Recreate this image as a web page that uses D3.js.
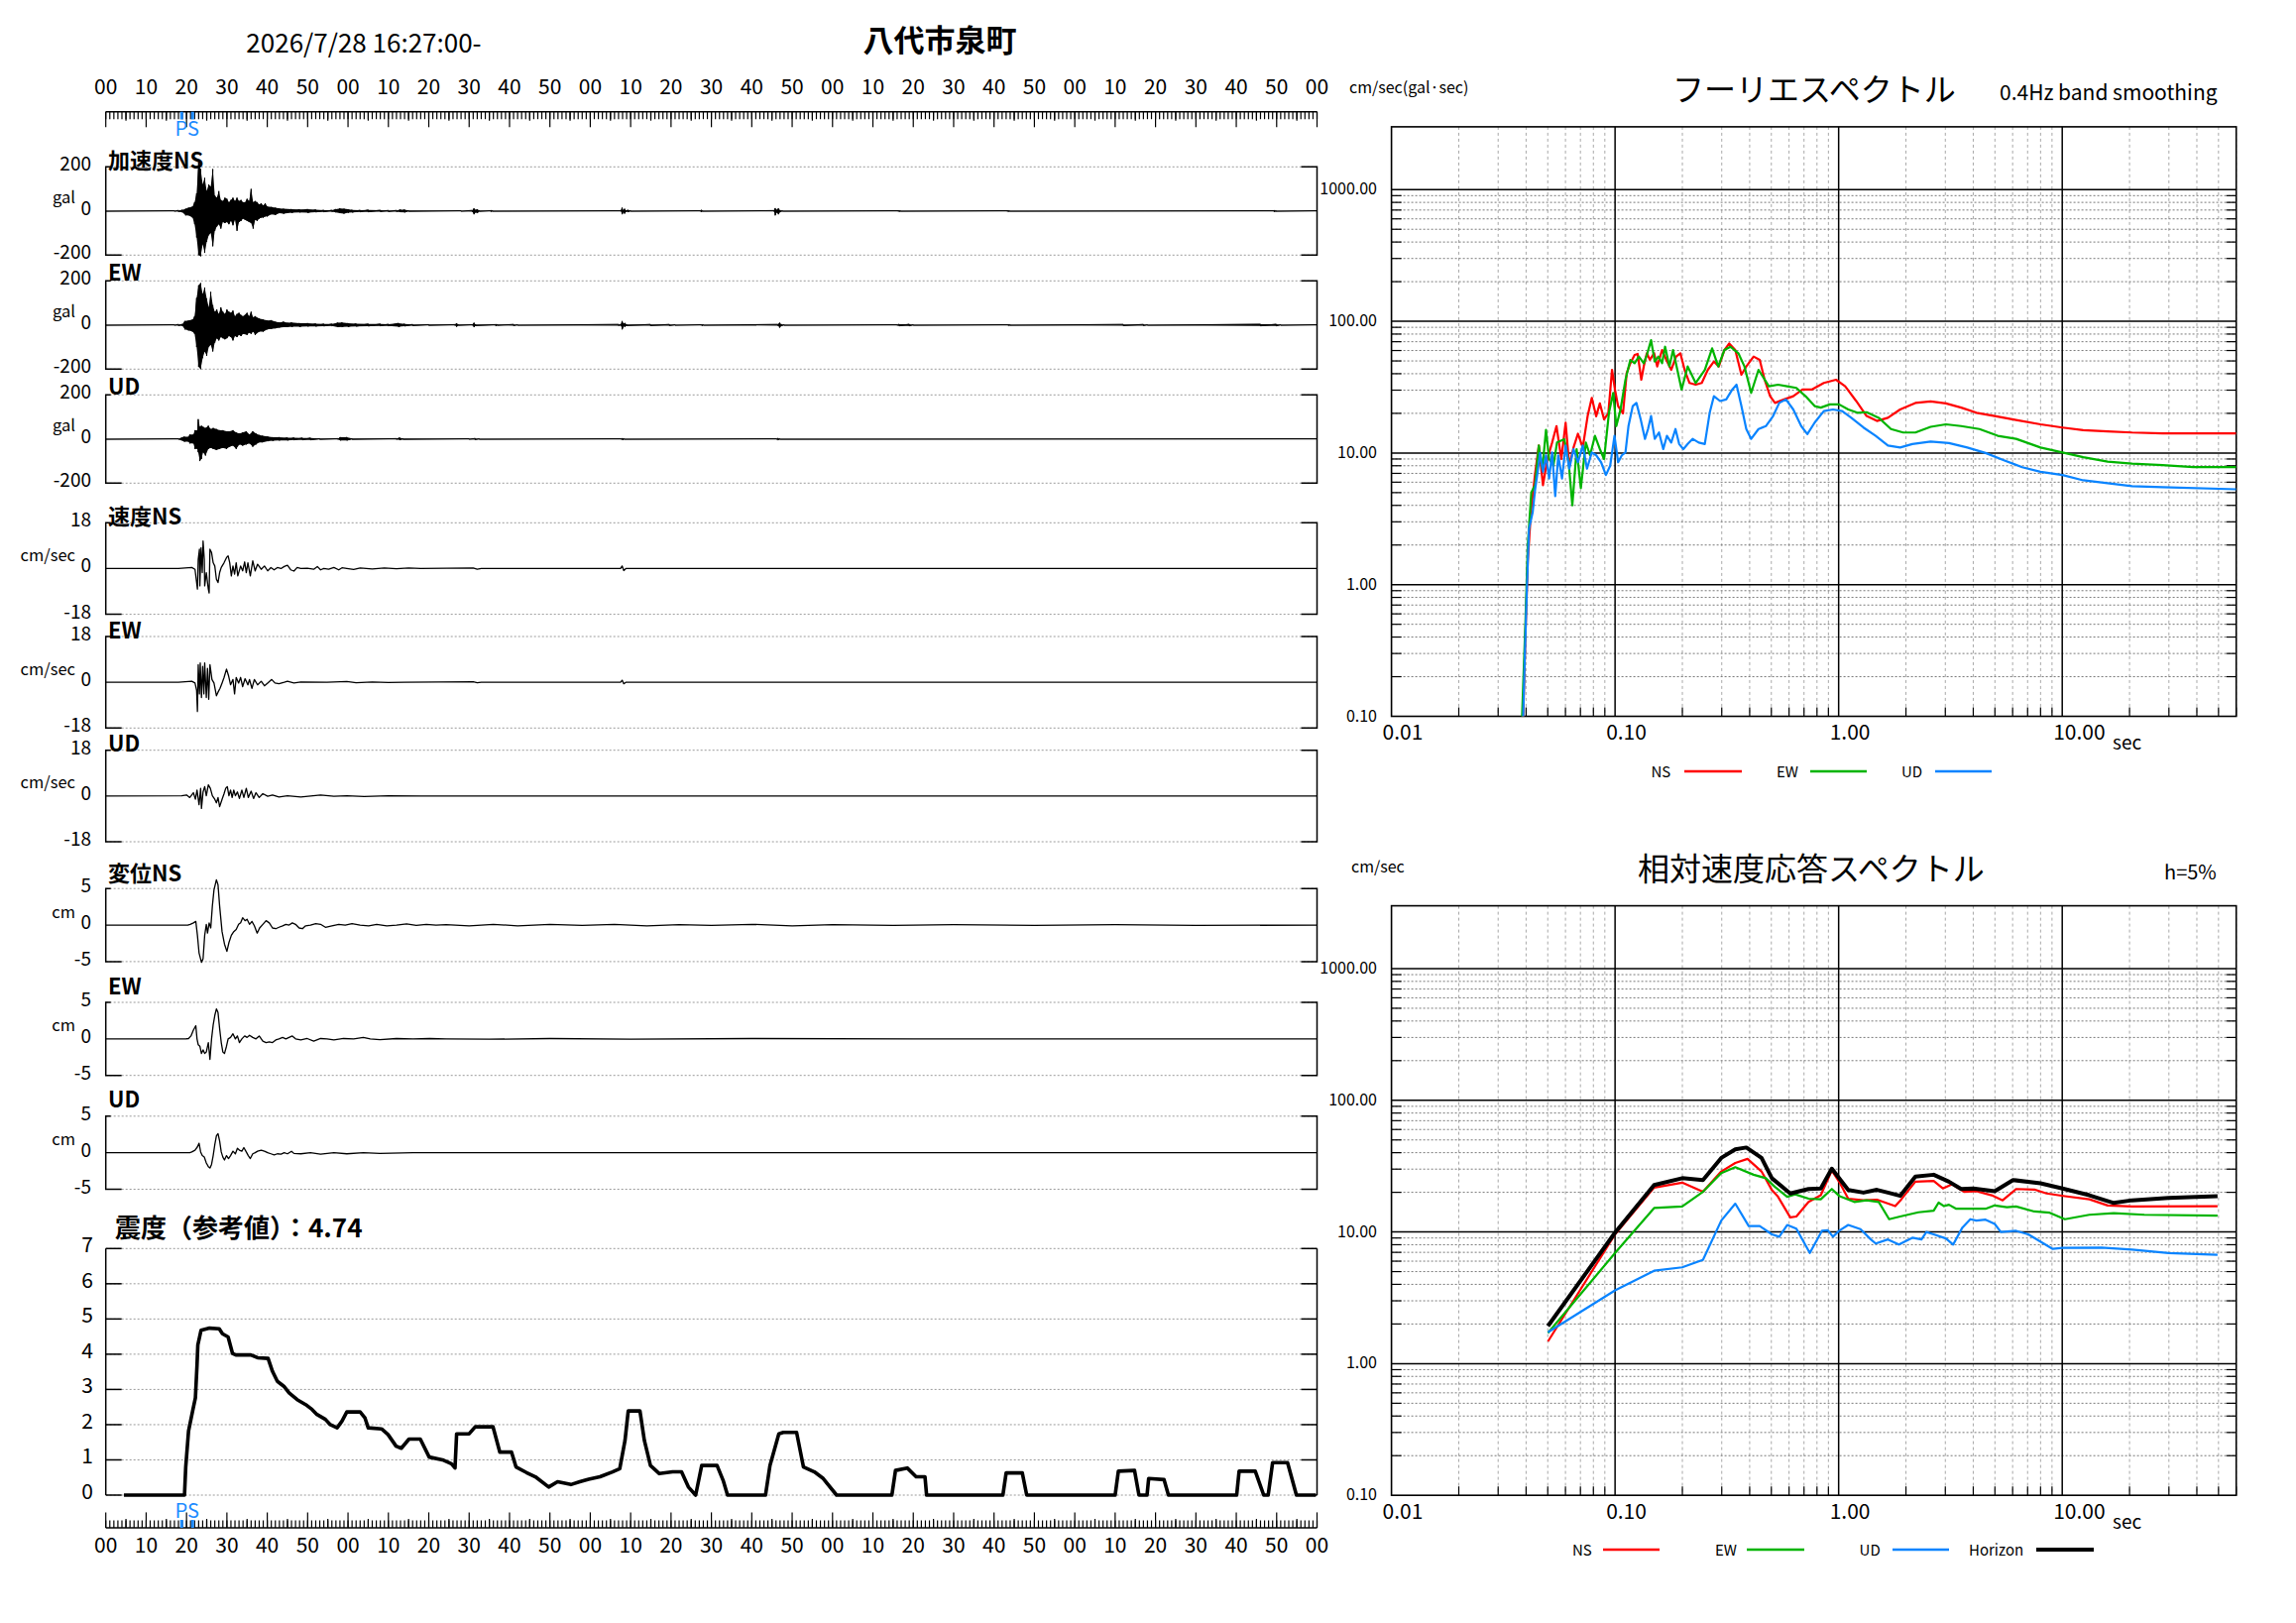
<!DOCTYPE html>
<html>
<head>
<meta charset="utf-8">
<script src="https://cdn.jsdelivr.net/npm/d3@7"></script>
<style>
html, body { margin: 0; padding: 0; background: #fff; }
svg { display: block; font-family: "Noto Sans CJK JP", "Noto Sans", sans-serif; }
</style>
</head>
<body>
<svg id="chart" width="2316" height="1637"></svg>
<script>
// ---------- time-history data (seconds after 16:27:00) ----------
var timeTicks = d3.range(0, 301, 10);
var pWave = 18.8, sWave = 21.5;

// acceleration envelopes: [t, upper gal, lower gal]
var accNS = [[0,1.5,-1.5],[17,1.5,-1.5],[18,3,-3],[19,5,-6],[19.8,10,-20],[20.5,15,-20],[21.5,20,-30],[22,40,-60],[22.5,80,-120],[23,220,-200],[23.5,190,-205],[24,120,-150],[24.5,150,-190],[25,90,-140],[25.5,120,-110],[26,110,-100],[26.5,190,-160],[27,70,-90],[27.5,60,-70],[28,90,-60],[28.5,50,-80],[29,45,-50],[29.5,60,-55],[30,55,-50],[30.5,40,-60],[31,50,-45],[31.5,60,-65],[32,45,-40],[32.5,60,-90],[33,45,-50],[33.5,50,-45],[34,40,-35],[34.5,40,-40],[35,55,-45],[35.5,45,-50],[36,100,-55],[36.5,40,-80],[37,45,-40],[37.5,40,-45],[38,30,-35],[38.5,35,-30],[39,25,-30],[39.5,35,-25],[40,20,-25],[41,18,-15],[42,15,-18],[43,12,-10],[44,10,-12],[46,8,-8],[48,7,-6],[50,8,-8],[52,6,-5],[54,4,-4],[56,4,-3],[57,8,-6],[58,12,-10],[59,10,-12],[60,8,-8],[61,5,-6],[63,4,-4],[65,5,-4],[68,4,-3],[70,3,-3],[72,3,-3],[73,6,-5],[74,6,-6],[75,2,-2],[88,1.5,-1.5],[90.8,3,-3],[91.2,12,-15],[91.6,5,-6],[92,8,-10],[92.5,2,-2],[95.3,1.5,-1.5],[95.5,4,-3],[95.8,1.5,-1.5],[127.6,1.5,-1.5],[127.9,15,-15],[128.2,4,-4],[128.5,10,-12],[128.8,3,-3],[129.3,5,-4],[130,1.5,-1.5],[147.3,1.5,-1.5],[147.5,5,-5],[147.8,1.5,-1.5],[165.5,2,-2],[165.8,13,-20],[166.2,5,-6],[166.6,12,-15],[167,4,-4],[167.6,1.5,-1.5],[196.3,1.5,-1.5],[196.5,3,-3],[196.8,1.5,-1.5],[223.3,1.5,-1.5],[223.5,3,-3],[223.8,1.5,-1.5],[289.3,1.5,-1.5],[289.5,4,-4],[289.8,1.5,-1.5],[300,1.5,-1.5]];
var accEW = [[0,1.5,-1.5],[17,1.5,-1.5],[18,3,-3],[19,4,-4],[19.6,18,-20],[20.5,20,-25],[21.5,25,-30],[22,40,-40],[22.5,123,-100],[23,180,-190],[23.5,190,-200],[24,140,-150],[24.5,170,-120],[25,120,-140],[25.5,80,-100],[26,150,-90],[26.5,90,-120],[27,60,-80],[27.5,70,-60],[28,50,-70],[28.5,80,-55],[29,60,-60],[29.5,50,-65],[30,70,-60],[30.5,60,-50],[31,55,-55],[31.5,65,-70],[32,40,-50],[32.5,50,-55],[33,55,-45],[33.5,45,-50],[34,40,-40],[35,55,-45],[35.5,40,-35],[36,60,-40],[36.5,35,-30],[37,40,-45],[38,30,-30],[39,25,-30],[40,20,-20],[41,22,-18],[42,15,-15],[43,12,-12],[44,15,-10],[45,10,-10],[46,12,-8],[48,8,-8],[50,8,-6],[52,6,-6],[54,5,-5],[56,5,-4],[57.5,10,-10],[58.5,12,-9],[60,8,-8],[62,6,-6],[65,5,-5],[68,5,-4],[70,4,-4],[72.5,8,-8],[74,5,-5],[76,3,-3],[80,2,-2],[86.5,2,-2],[86.9,8,-8],[87.3,2,-2],[90.9,2,-2],[91.2,10,-10],[91.6,3,-3],[96.5,2,-2],[96.7,4,-4],[97,2,-2],[101,3,-3],[102,1.5,-1.5],[127,3,-3],[127.6,3,-3],[127.9,18,-20],[128.3,6,-6],[128.6,9,-8],[129,3,-3],[134.9,3,-3],[139.6,3,-3],[141,1.5,-1.5],[147.5,1.5,-1.5],[147.7,3,-3],[148,1.5,-1.5],[166.5,3,-3],[166.9,10,-12],[167.3,4,-4],[168,1.5,-1.5],[196,1.5,-1.5],[196.5,4,-4],[199,4,-4],[200,1.5,-1.5],[223.5,1.5,-1.5],[223.7,3,-3],[224,1.5,-1.5],[252,3,-3],[257,3,-3],[258,1.5,-1.5],[286,4,-4],[289.9,4,-4],[291,1.5,-1.5],[300,1.5,-1.5]];
var accUD = [[0,1.5,-1.5],[18,1.5,-1.5],[19.5,10,-12],[20.5,10,-12],[20.8,20,-20],[21.7,20,-20],[22.1,40,-45],[22.7,40,-45],[22.9,90,-60],[23.3,55,-100],[23.7,60,-90],[24.1,55,-60],[24.7,50,-75],[25.4,60,-45],[26.0,45,-40],[26.6,50,-45],[27.4,45,-50],[28.2,40,-45],[29.0,40,-40],[29.9,35,-45],[30.7,35,-35],[31.5,40,-30],[32.3,30,-45],[33.1,25,-25],[33.9,30,-30],[34.8,35,-25],[35.6,20,-20],[36.4,35,-35],[37.2,25,-25],[38.0,18,-15],[38.8,15,-15],[40.1,12,-10],[41.3,8,-8],[42.9,8,-6],[45.0,6,-6],[46.6,6,-4],[48.7,5,-4],[50.7,5,-4],[53,2,-2],[57.5,2,-2],[58.1,8,-6],[59.7,8,-6],[61,2,-2],[72,2,-2],[72.8,6,-4],[73.6,2,-2],[90,1.5,-1.5],[91.5,3,-3],[92.5,1.5,-1.5],[127.7,1.5,-1.5],[128,4,-4],[128.4,1.5,-1.5],[166.2,1.5,-1.5],[166.5,4,-4],[166.9,1.5,-1.5],[300,1.5,-1.5]];

// velocity, cm/sec: [t, v]
var velNS = [[0,0],[18,0],[21.3,0.4],[22.1,-0.3],[22.7,-8.1],[22.9,3.6],[23.2,7.6],[23.3,-6.8],[23.6,8.2],[23.9,-1.6],[24.1,10.8],[24.4,3.6],[24.5,-6.8],[24.9,-1.6],[25.4,-8.1],[25.6,-9.6],[25.8,7.6],[26.2,6.3],[26.6,2.3],[27.0,1.0],[27.4,-4.2],[27.8,-5.5],[28.2,-1.6],[28.6,0.4],[29.3,2.3],[29.9,4.3],[30.3,5.0],[30.7,2.3],[31.1,-2.9],[31.5,1.0],[31.9,-2.2],[32.3,2.3],[32.7,-2.9],[33.4,1.0],[33.9,-0.9],[34.4,2.6],[34.8,-1.6],[35.2,2.3],[35.8,-2.9],[36.4,3.0],[37.0,-0.9],[37.6,1.7],[38.5,-0.3],[39.3,1.0],[40.1,-0.9],[40.9,0.4],[41.7,-0.5],[42.5,0.4],[43.4,0],[44.2,0.8],[45.0,1.3],[45.8,-0.5],[46.6,-1.0],[47.4,0.4],[48.3,0],[49.9,0.1],[51.5,-0.3],[52.4,0.8],[53.2,-0.5],[54.0,0],[55.2,-0.3],[56.5,0.4],[57.7,-0.5],[58.5,0.3],[59.7,0],[61.4,-0.4],[63,0.2],[66,-0.2],[69,0.2],[72,-0.1],[75,0.2],[78,0],[91,0.2],[92,-0.3],[93,0],[127.5,0],[127.9,1.0],[128.3,-0.8],[128.8,0],[300,0]];
var velEW = [[0,0],[18,0],[21.3,0.4],[22.1,-0.3],[22.5,-3.2],[22.7,-11.5],[22.9,6.9],[23.2,-4.6],[23.4,7.6],[23.7,-6.0],[24.0,6.2],[24.3,-4.6],[24.5,7.6],[24.9,-6.0],[25.2,5.5],[25.5,-6.7],[25.8,6.9],[26.3,1.1],[26.8,-0.3],[27.4,-5.3],[27.8,-3.9],[28.3,-2.4],[28.8,-0.3],[29.3,1.9],[29.9,5.2],[30.4,2.6],[30.9,-1.0],[31.5,1.1],[31.9,-4.6],[32.3,1.9],[32.9,-0.3],[33.4,1.9],[33.9,-1.7],[34.5,1.4],[35.2,-1.0],[35.6,1.1],[36.2,-2.4],[36.8,1.1],[37.6,-1.0],[38.5,0.4],[39.3,-1.4],[40.1,-0.3],[41.1,1.1],[41.9,-0.3],[42.9,-0.6],[44.2,0],[45.0,0.4],[46.6,-0.3],[48.3,0.1],[54.8,0],[59.7,0.3],[62,-0.2],[66,0.1],[70,-0.1],[74,0],[91,0.2],[92,-0.2],[93,0],[127.5,0],[127.9,0.8],[128.3,-0.6],[128.8,0],[300,0]];
var velUD = [[0,0],[18.8,0.1],[20.0,0.4],[20.8,-0.6],[21.7,1.3],[22.2,-1.3],[22.6,2.3],[23.1,-3.4],[23.5,3.0],[23.7,-4.9],[24.1,1.6],[24.5,3.7],[24.9,0.1],[25.4,4.4],[25.9,3.0],[26.4,0.1],[27.0,-1.3],[27.4,-2.7],[27.8,-0.6],[28.2,-4.2],[28.8,-1.3],[29.3,0.9],[29.7,3.0],[30.1,3.7],[30.5,0.1],[30.9,2.3],[31.3,-0.6],[31.7,2.3],[32.1,0.1],[32.6,1.6],[33.1,-1.0],[33.7,2.3],[34.2,-0.6],[34.8,3.0],[35.3,-0.6],[36.0,1.9],[36.6,-1.0],[37.2,1.3],[38.0,-0.6],[38.9,0.9],[40.1,-0.1],[41.3,0.4],[42.9,-0.4],[45.0,0.1],[48.3,-0.4],[53.2,0.4],[56.5,-0.1],[59.7,0.1],[64,-0.2],[70,0.1],[78,0],[300,0]];

// displacement, cm: [t, d]
var dispNS = [[0,0],[20.3,0],[20.9,0.1],[21.7,0.3],[22.3,0.5],[22.7,-1.4],[23.1,-3.8],[23.7,-5.1],[24.1,-4.6],[24.5,-1.4],[24.9,0.1],[25.2,-1.1],[25.6,0.3],[26.0,-0.4],[26.4,2.6],[26.8,4.8],[27.4,6.2],[27.8,5.5],[28.2,2.6],[28.8,-0.9],[29.4,-2.6],[30.0,-3.6],[30.5,-2.4],[31.1,-1.4],[31.7,-0.9],[32.3,-0.6],[32.9,0.1],[33.4,0.3],[33.9,1.0],[34.5,0.6],[35.0,0.8],[35.6,0.1],[36.2,0.5],[36.8,-0.1],[37.5,-1.1],[38.1,-0.4],[38.9,0.1],[39.7,0.6],[40.5,0.3],[41.3,-0.4],[42.1,-0.5],[42.9,-0.3],[43.8,-0.1],[44.6,0.1],[45.4,0],[46.2,0.3],[47.0,0.1],[47.9,-0.4],[48.7,-0.5],[49.5,-0.1],[50.7,0],[52.0,0.2],[53.2,0.1],[54.4,-0.3],[56.0,-0.1],[57.7,0.1],[59.3,0],[61.0,0.2],[63.0,0],[65.1,-0.1],[67.1,0.1],[69.6,-0.1],[72.0,0],[74.5,0.15],[76.9,-0.05],[79.4,0.1],[81.8,0],[84.3,0.05],[90,-0.1],[96,0.1],[102,-0.1],[110,0.1],[118,-0.05],[126,0.1],[134,-0.1],[142,0.05],[150,-0.05],[160,0.1],[170,-0.1],[180,0.05],[195,-0.05],[210,0.05],[230,-0.05],[250,0.05],[270,-0.05],[300,0]];
var dispEW = [[0,0],[19.8,0],[20.5,0.05],[21.1,0.4],[21.7,1.2],[22.3,1.8],[22.6,0],[22.9,-0.8],[23.3,-1.0],[23.7,-2.0],[24.1,-1.5],[24.5,-2.0],[24.9,-1.8],[25.4,-0.5],[25.8,-2.8],[26.2,0],[26.6,1.9],[27.0,3.2],[27.4,4.1],[27.8,3.6],[28.2,1.4],[28.6,-0.5],[29.0,-1.8],[29.4,-2.0],[29.9,-1.0],[30.3,0],[30.9,0.2],[31.5,0.7],[32.1,0],[32.6,0.4],[33.1,-0.5],[33.7,0],[34.4,0.4],[35.0,0.2],[35.6,0.5],[36.4,0.2],[37.2,0],[38.0,0.4],[38.9,-0.3],[39.7,-0.5],[40.5,-0.4],[41.3,-0.5],[42.1,-0.15],[42.9,0],[43.8,0.2],[44.6,0],[45.4,0.2],[46.2,0.4],[47.0,0],[48.3,-0.15],[49.9,0.05],[51.5,-0.3],[53.2,0.05],[54.8,0],[56.5,-0.15],[58.9,0.05],[61.4,0],[63.8,0.2],[65.5,0],[67.9,-0.1],[72.0,0.05],[76.1,0],[80.2,0.05],[84.3,0],[95,-0.05],[110,0.05],[130,-0.05],[160,0.05],[200,0],[300,0]];
var dispUD = [[0,0],[20.8,0],[21.3,0.1],[22.1,0.35],[22.7,0.8],[23.1,1.3],[23.5,0.1],[23.9,-0.4],[24.4,-0.6],[24.9,-1.4],[25.4,-1.9],[25.8,-2.1],[26.2,-1.6],[26.6,-0.4],[27.0,1.1],[27.4,2.3],[27.8,2.6],[28.2,1.6],[28.6,0.1],[29.0,-0.6],[29.4,-1.0],[29.9,-0.4],[30.4,-0.8],[30.9,-0.4],[31.5,0.2],[32.1,-0.15],[32.6,0.6],[33.1,0.35],[33.7,0.2],[34.2,0.7],[34.8,0.1],[35.3,-0.4],[35.8,-0.8],[36.4,-0.15],[37.0,0],[37.6,0.2],[38.5,0.35],[39.3,0.2],[40.1,0],[40.9,-0.15],[41.7,-0.3],[42.5,-0.15],[43.4,-0.2],[44.2,0],[45.0,-0.15],[46.0,0.2],[46.6,-0.1],[48.3,-0.15],[50.7,0],[53.2,-0.2],[56.5,0],[59.7,-0.15],[63.8,0],[67.9,-0.1],[76.1,0],[300,0]];

// seismic intensity (reference value) time history: [t, I]
var intensityTicks = [0, 1, 2, 3, 4, 5, 6, 7];
var intensity = [[4.5,0],[19.5,0],[19.8,0.79],[20.5,1.82],[21.5,2.38],[22.2,2.76],[22.6,3.69],[22.8,4.26],[23.6,4.68],[25.7,4.74],[28.1,4.72],[28.9,4.58],[30.3,4.49],[31.4,4.02],[32.2,3.98],[35.9,3.98],[37.6,3.9],[40.2,3.88],[41.3,3.51],[42.5,3.23],[44.1,3.09],[45.4,2.9],[47.4,2.71],[49.5,2.57],[51.1,2.43],[52.3,2.29],[54.4,2.15],[55.6,2.0],[57.3,1.91],[58.5,2.1],[59.7,2.36],[63.0,2.36],[64.2,2.19],[65.0,1.91],[68.3,1.88],[69.9,1.72],[71.9,1.39],[73.2,1.33],[75.1,1.59],[77.9,1.59],[80.1,1.08],[83.4,1.0],[85.6,0.89],[86.5,0.77],[86.9,1.74],[90.0,1.74],[91.5,1.94],[95.9,1.94],[97.6,1.22],[100.5,1.22],[101.6,0.8],[104.2,0.64],[106.4,0.52],[109.7,0.23],[111.9,0.38],[115.2,0.3],[117.4,0.38],[119.6,0.45],[122.4,0.52],[125.5,0.66],[127.3,0.75],[128.6,1.55],[129.4,2.39],[132.3,2.39],[133.4,1.55],[134.9,0.84],[137.1,0.61],[140.4,0.66],[142.6,0.66],[144.3,0.23],[146.1,0],[147.6,0.84],[151.4,0.84],[152.9,0.42],[154.0,0],[163.4,0],[164.5,0.84],[166.7,1.74],[167.8,1.78],[171.1,1.78],[172.8,0.8],[175.5,0.66],[177.7,0.47],[181.0,0],[194.7,0],[195.6,0.7],[198.5,0.77],[200.7,0.52],[202.9,0.52],[203.3,0],[222.2,0],[223.0,0.63],[227.0,0.63],[228.1,0],[250.0,0],[250.8,0.68],[254.8,0.7],[255.9,0],[257.9,0],[258.3,0.47],[262.1,0.44],[263.2,0],[280.1,0],[280.7,0.68],[284.7,0.68],[286.8,0],[287.9,0],[289.0,0.92],[292.7,0.92],[294.9,0],[299.7,0]];

// ---------- spectra: [period sec, value] ----------
var fourierNS = [[0.0387,0.08],[0.0397,0.4],[0.0407,1.5],[0.0420,3.5],[0.0439,7],[0.0456,11.4],[0.0476,5.7],[0.0498,9],[0.0523,12],[0.0547,16],[0.0575,9],[0.0601,17],[0.0624,8],[0.0652,11],[0.0682,14],[0.0717,11],[0.0754,19.1],[0.0787,26.2],[0.0823,19],[0.0855,23.8],[0.0893,18],[0.0933,20],[0.0969,42.8],[0.1,30],[0.1032,22.7],[0.1085,20],[0.1127,40.4],[0.1170,48],[0.1223,55.5],[0.1262,56.5],[0.1310,36],[0.1344,45.4],[0.1387,57.2],[0.1431,51],[0.1495,57.2],[0.1543,45.4],[0.1623,60.5],[0.1695,51],[0.1783,42.8],[0.1875,54],[0.1959,57.2],[0.2047,42.8],[0.2153,34],[0.2293,33],[0.2442,34],[0.2600,42.8],[0.2768,49.5],[0.2911,45.4],[0.3082,60.5],[0.3240,67.9],[0.3449,60.5],[0.3673,39.3],[0.3863,45.4],[0.4166,54],[0.4436,50.9],[0.4666,36],[0.4937,27],[0.5191,24],[0.5703,25.5],[0.6267,27],[0.6887,30.3],[0.7570,30.3],[0.8585,34],[0.9734,36],[1.0696,32.1],[1.1979,24.8],[1.3330,19.1],[1.4832,17.5],[1.6612,18.5],[1.8835,21.4],[2.2035,24],[2.5788,24.6],[3.0177,23.8],[3.5318,22.1],[4.1324,20.2],[4.9893,19.1],[6.2173,17.8],[7.9950,16.5],[10.025,15.6],[12.416,14.9],[15.966,14.6],[20.532,14.3],[28.108,14.1],[60,14.1]];
var fourierEW = [[0.0382,0.08],[0.0397,0.5],[0.0407,2],[0.0422,5],[0.0439,5.7],[0.0456,11.4],[0.0473,7.6],[0.0491,15],[0.0507,9],[0.0530,8],[0.0550,12],[0.0593,12.7],[0.0620,8.5],[0.0644,4.0],[0.0673,10.7],[0.0703,5.4],[0.0740,12],[0.0773,9.6],[0.0813,13.5],[0.0855,10.7],[0.0893,9],[0.0939,20.2],[0.0981,28.6],[0.1013,16],[0.1058,21.4],[0.1113,36],[0.1170,50.9],[0.1223,48.1],[0.1278,54],[0.1344,48.1],[0.1387,55.5],[0.1449,71.9],[0.1505,49.5],[0.1562,54],[0.1623,48.1],[0.1674,64.1],[0.1750,45.4],[0.1817,60.5],[0.1899,42.8],[0.1984,30.3],[0.2113,45.4],[0.2293,34],[0.2520,42.8],[0.2717,62.3],[0.2893,45.4],[0.3082,60.5],[0.3281,64.1],[0.3560,57.2],[0.3791,45.4],[0.4062,28.6],[0.4381,42.8],[0.4875,32.1],[0.5356,33],[0.5886,32.1],[0.6468,31.2],[0.7108,27],[0.7811,22.7],[0.8318,22.1],[0.9141,23.4],[1.0044,23.4],[1.1038,21.4],[1.2130,20.2],[1.3330,20.4],[1.5115,18.5],[1.7139,15.2],[1.9436,14.3],[2.2035,14.3],[2.5788,15.8],[3.0177,16.5],[3.5318,16],[4.2640,15.2],[5.1484,13.5],[6.2173,12.8],[7.9950,11.0],[10.025,10.1],[12.416,9.3],[15.966,8.6],[20.532,8.3],[28.108,8.1],[38.482,7.8],[60,7.8]];
var fourierUD = [[0.0387,0.08],[0.0394,0.25],[0.0402,0.79],[0.0412,2.65],[0.0428,3.54],[0.0439,5.3],[0.0450,7.07],[0.0462,10],[0.0476,7.2],[0.0491,9.6],[0.0507,6.4],[0.0523,10.1],[0.0540,4.7],[0.0557,9.6],[0.0579,6.4],[0.0601,11.4],[0.0624,7.6],[0.0652,10.7],[0.0682,8.5],[0.0717,11.4],[0.0749,7.6],[0.0787,10.1],[0.0823,9.6],[0.0866,8.5],[0.0910,6.8],[0.0951,8.0],[0.0994,13.5],[0.1032,8.5],[0.1072,9.6],[0.1113,10.1],[0.1148,16],[0.1200,22.7],[0.1246,24],[0.1302,18],[0.1361,12.8],[0.1404,15.2],[0.1449,19.1],[0.1505,12.8],[0.1572,14.3],[0.1643,10.7],[0.1706,13.5],[0.1783,12],[0.1863,15.2],[0.1935,11.7],[0.2021,10.7],[0.2113,11.7],[0.2222,12.8],[0.2366,12],[0.2520,11.7],[0.2650,20.2],[0.2768,27],[0.2948,24.8],[0.3141,25.5],[0.3343,30.3],[0.3493,33],[0.3673,22.7],[0.3863,15.2],[0.4062,12.8],[0.4381,15.2],[0.4725,16],[0.5093,19.1],[0.5424,24],[0.5812,25.5],[0.6267,21.4],[0.6801,16],[0.7244,13.9],[0.7811,17],[0.8585,20.8],[0.9432,21.4],[1.0366,20.8],[1.1389,18.5],[1.2916,15.6],[1.4646,13.5],[1.6612,11.4],[1.8835,11.0],[2.1359,11.7],[2.5788,12.2],[3.1137,11.9],[3.7609,11.0],[4.5406,10.0],[5.4825,8.8],[6.6210,7.8],[7.9950,7.2],[10.025,6.8],[12.416,6.2],[15.966,5.9],[20.532,5.6],[28.108,5.5],[60,5.3]];

var respNS = [[0.0501,1.475],[0.1,9.59],[0.1495,21.7],[0.1996,23.7],[0.2472,20.2],[0.2985,28.8],[0.3449,33.4],[0.3913,35.9],[0.452,28.8],[0.5028,20.8],[0.5356,18.5],[0.6075,12.9],[0.6468,13.1],[0.7337,16.9],[0.8318,19.0],[0.932,29.3],[1.0044,24.1],[1.1038,17.9],[1.2916,17.4],[1.4832,17.6],[1.791,15.7],[1.907,17.7],[2.2035,24.1],[2.661,24.4],[2.924,21.4],[3.214,23.0],[3.644,20.2],[4.13,20.4],[4.836,19.0],[5.415,17.4],[6.217,21.2],[7.508,21.0],[8.51,19.6],[10.28,18.7],[13.22,17.7],[15.97,15.9],[20.53,15.6],[49.5,15.7]];
var respEW = [[0.0501,1.71],[0.1,6.92],[0.1495,15.2],[0.1996,15.6],[0.2472,20.2],[0.2985,28.0],[0.3449,31.0],[0.4166,27.2],[0.4725,25.6],[0.5191,22.0],[0.5886,18.5],[0.6388,19.3],[0.7337,17.9],[0.8318,17.7],[0.932,21.2],[1.0044,18.8],[1.175,16.9],[1.333,17.4],[1.5115,16.9],[1.682,12.5],[1.8835,13.1],[2.274,14.1],[2.661,14.5],[2.799,16.7],[2.962,15.7],[3.1137,16.1],[3.357,15.0],[4.54,15.0],[4.9893,15.9],[5.657,15.4],[6.217,15.6],[7.508,14.3],[8.787,14.0],[10.28,12.5],[13.22,13.5],[17.0,13.9],[23.28,13.5],[49.5,13.3]];
var respUD = [[0.0501,1.73],[0.1,3.60],[0.1495,5.08],[0.1996,5.39],[0.2472,6.14],[0.2985,12.2],[0.3449,16.4],[0.396,11.1],[0.4436,11.1],[0.5028,9.59],[0.5424,9.2],[0.5886,11.3],[0.6468,10.6],[0.743,6.92],[0.842,10.2],[0.8938,10.3],[0.9432,9.2],[1.0044,10.2],[1.1038,11.3],[1.2518,10.5],[1.393,8.77],[1.4646,8.17],[1.6612,8.77],[1.860,8.02],[2.1359,9.04],[2.347,8.77],[2.468,10.0],[2.661,9.59],[3.0177,8.93],[3.253,8.02],[3.576,10.8],[3.881,12.5],[4.13,12.2],[4.54,12.4],[4.9893,11.5],[5.314,10.0],[6.217,10.2],[7.052,9.59],[9.066,7.43],[10.03,7.56],[14.99,7.6],[20.53,7.34],[29.9,6.92],[49.5,6.71]];
var respH = [[0.0501,1.93],[0.1,9.88],[0.1495,22.7],[0.1996,25.6],[0.2472,24.8],[0.2985,36.5],[0.3449,42.4],[0.3864,43.8],[0.452,36.5],[0.5028,25.6],[0.6075,19.6],[0.7337,21.2],[0.8318,21.4],[0.932,30.2],[1.1038,20.8],[1.2916,19.9],[1.4832,20.9],[1.6612,19.9],[1.8835,18.8],[2.2035,26.3],[2.661,27.2],[3.1137,24.1],[3.5318,21.2],[4.004,21.4],[4.9893,20.4],[6.025,24.8],[7.995,23.4],[10.03,21.4],[13.22,19.0],[17.0,16.6],[20.53,17.4],[29.9,18.1],[49.5,18.7]];

var specLabelsY = [0.1, 1, 10, 100, 1000];
var specLabelsX = [0.01, 0.1, 1, 10];

// ---------- drawing ----------
var FONT = '"Noto Sans CJK JP", "Noto Sans", sans-serif';
var BLUE_PS = '#1e8cff';
var svg = d3.select('#chart');
var X0 = 106.7, X1 = 1328.5;
var xTime = d3.scaleLinear().domain([0, 300]).range([X0, X1]);

function txt(x, y, s, size, anchor, color, weight) {
	return svg.append('text')
		.attr('x', x).attr('y', y)
		.attr('font-size', size)
		.attr('font-family', FONT)
		.attr('font-weight', weight || 'normal')
		.attr('text-anchor', anchor || 'start')
		.attr('fill', color || '#000')
		.text(s);
}

function secLabel(t) {
	var s = Math.round(t) % 60;
	return (s < 10 ? '0' : '') + s;
}

// titles
txt(367, 53, '2026/7/28 16:27:00-', 26, 'middle');
txt(948, 52, '八代市泉町', 31, 'middle', '#000', 'bold');

/**
 * time axis; ticks always point toward the charts (down for the top one, up for the bottom one)
 */
function timeAxis(yLine, top) {
	var g = svg.append('g').attr('transform', 'translate(0,' + yLine + ')');
	var mk = top ? d3.axisTop : d3.axisBottom;
	g.append('g').call(mk(xTime).tickValues(d3.range(0, 301, 1)).tickSize(-7.5).tickSizeOuter(0).tickFormat('').offset(0));
	g.append('g').call(mk(xTime).tickValues(d3.range(5, 300, 10)).tickSize(-9).tickSizeOuter(0).tickFormat('').offset(0))
		.select('.domain').remove();
	var lab = g.append('g').call(mk(xTime).tickValues(timeTicks).tickSize(-15.6).tickSizeOuter(0)
		.tickPadding(top ? 18.2 : 9.6).tickFormat(secLabel).offset(0));
	lab.select('.domain').remove();
	lab.attr('font-family', FONT).attr('font-size', 21);
	g.selectAll('line').attr('stroke-width', 1.2);
	g.selectAll('.domain').attr('stroke-width', 1.5);
	return g;
}

timeAxis(112.7, true);
timeAxis(1541, false);

// P / S markers
[pWave, sWave].forEach(function (t) {
	svg.append('line').attr('x1', xTime(t)).attr('x2', xTime(t)).attr('y1', 112.7).attr('y2', 120.5)
		.attr('stroke', BLUE_PS).attr('stroke-width', 3);
	svg.append('line').attr('x1', xTime(t)).attr('x2', xTime(t)).attr('y1', 1533).attr('y2', 1541)
		.attr('stroke', BLUE_PS).attr('stroke-width', 3);
});
txt(xTime((pWave + sWave) / 2), 137, 'PS', 20, 'middle', BLUE_PS);
txt(xTime((pWave + sWave) / 2), 1531, 'PS', 20, 'middle', BLUE_PS);

// waveform panels
var panelLayout = [
	{ label: '加速度NS', top: 168.3, h: 89, max: 200, unit: 'gal', nameDy: 2 },
	{ label: 'EW', top: 283.3, h: 89, max: 200, unit: 'gal', nameDy: 0 },
	{ label: 'UD', top: 398.3, h: 89, max: 200, unit: 'gal', nameDy: 0 },
	{ label: '速度NS', top: 527.3, h: 92.3, max: 18, unit: 'cm/sec', nameDy: 2 },
	{ label: 'EW', top: 642, h: 92.3, max: 18, unit: 'cm/sec', nameDy: 1.5 },
	{ label: 'UD', top: 756.7, h: 92.3, max: 18, unit: 'cm/sec', nameDy: 1.5 },
	{ label: '変位NS', top: 896.2, h: 73.7, max: 5, unit: 'cm', nameDy: -7 },
	{ label: 'EW', top: 1011, h: 73.7, max: 5, unit: 'cm', nameDy: -8.5 },
	{ label: 'UD', top: 1125.8, h: 73.7, max: 5, unit: 'cm', nameDy: -8.5 }
];
var panelData = [accNS, accEW, accUD, velNS, velEW, velUD, dispNS, dispEW, dispUD];

panelLayout.forEach(function (p, i) {
	var bottom = p.top + p.h;
	var y = d3.scaleLinear().domain([-p.max, p.max]).range([bottom, p.top]);
	var g = svg.append('g');

	[p.top, bottom].forEach(function (yy) {
		g.append('line').attr('x1', X0).attr('x2', X1).attr('y1', yy).attr('y2', yy)
			.attr('stroke', '#9a9a9a').attr('stroke-width', 1).attr('stroke-dasharray', '2,2');
	});
	g.append('path')
		.attr('d', 'M' + (X0 + 5) + ',' + p.top + 'H' + X0 + 'V' + bottom + 'H' + (X0 + 16))
		.attr('fill', 'none').attr('stroke', '#000').attr('stroke-width', 1.5);
	g.append('path')
		.attr('d', 'M' + (X1 - 16) + ',' + p.top + 'H' + X1 + 'V' + bottom + 'H' + (X1 - 16))
		.attr('fill', 'none').attr('stroke', '#000').attr('stroke-width', 1.5);

	txt(109, p.top + p.nameDy, p.label, 22, 'start', '#000', 'bold');
	txt(92, y(p.max) + 4, String(p.max), 19, 'end');
	txt(92, y(0) + 4, '0', 19, 'end');
	txt(92, y(-p.max) + 4, '-' + p.max, 19, 'end');
	txt(76, y(0) - 7.5, p.unit, 16.5, 'end');

	var data = panelData[i];
	if (data[0].length === 3) {
		// acceleration: dense trace drawn as its envelope plus the peak-to-peak strokes
		var area = d3.area()
			.x(function (d) { return xTime(d[0]); })
			.y0(function (d) { return y(d[2]); })
			.y1(function (d) { return y(d[1]); });
		g.append('path').datum(data).attr('d', area).attr('fill', '#000');
		var zig = [];
		data.forEach(function (d) { zig.push([d[0], d[1]]); zig.push([d[0], d[2]]); });
		g.append('path').datum(zig)
			.attr('d', d3.line().x(function (d) { return xTime(d[0]); }).y(function (d) { return y(d[1]); }))
			.attr('fill', 'none').attr('stroke', '#000').attr('stroke-width', 1);
	} else {
		g.append('path').datum(data)
			.attr('d', d3.line().x(function (d) { return xTime(d[0]); }).y(function (d) { return y(d[1]); }))
			.attr('fill', 'none').attr('stroke', '#000').attr('stroke-width', 1.3).attr('stroke-linejoin', 'round');
	}
});

// seismic intensity panel
var yI = d3.scaleLinear().domain([0, 7]).range([1508, 1259.3]);
txt(116, 1248, '震度（参考値）：4.74', 26, 'start', '#000', 'bold');
intensityTicks.forEach(function (v) {
	svg.append('line').attr('x1', X0).attr('x2', X1).attr('y1', yI(v)).attr('y2', yI(v))
		.attr('stroke', '#9a9a9a').attr('stroke-dasharray', '2,2');
	svg.append('line').attr('x1', X0).attr('x2', X0 + 16).attr('y1', yI(v)).attr('y2', yI(v))
		.attr('stroke', '#000').attr('stroke-width', 1.5);
	svg.append('line').attr('x1', X1 - 16).attr('x2', X1).attr('y1', yI(v)).attr('y2', yI(v))
		.attr('stroke', '#000').attr('stroke-width', 1.5);
	txt(94, yI(v) + 4, String(v), 21, 'end');
});
[X0, X1].forEach(function (xx) {
	svg.append('line').attr('x1', xx).attr('x2', xx).attr('y1', yI(7)).attr('y2', yI(0))
		.attr('stroke', '#000').attr('stroke-width', 1.5);
});
svg.append('path').datum(intensity)
	.attr('d', d3.line().x(function (d) { return xTime(d[0]); }).y(function (d) { return yI(d[1]); }))
	.attr('fill', 'none').attr('stroke', '#000').attr('stroke-width', 3.6)
	.attr('stroke-linejoin', 'round');

// ---------- log-log spectra ----------
var SX0 = 1403.6, SX1 = 2255.7;
var COLORS = { NS: '#ff0000', EW: '#00b400', UD: '#0a84ff', H: '#000000' };

function isDecade(v) {
	var l = Math.log10(v);
	return Math.abs(l - Math.round(l)) < 1e-6;
}

function logChart(top, bottom, id, series) {
	var x = d3.scaleLog().domain([0.01, 60]).range([SX0, SX1]);
	var y = d3.scaleLog().domain([0.1, 3000]).range([bottom, top]);
	var g = svg.append('g');

	// minor period lines
	x.ticks().filter(function (v) { return !isDecade(v); }).forEach(function (v) {
		g.append('line').attr('x1', x(v)).attr('x2', x(v)).attr('y1', top).attr('y2', bottom)
			.attr('stroke', '#a8a8a8').attr('stroke-width', 1).attr('stroke-dasharray', '3,3');
		g.append('line').attr('x1', x(v)).attr('x2', x(v)).attr('y1', bottom - 9).attr('y2', bottom)
			.attr('stroke', '#000').attr('stroke-width', 1.2);
	});
	// minor value lines (up to 1000)
	y.ticks().filter(function (v) { return !isDecade(v) && v < 1000; }).forEach(function (v) {
		g.append('line').attr('x1', SX0).attr('x2', SX1).attr('y1', y(v)).attr('y2', y(v))
			.attr('stroke', '#7a7a7a').attr('stroke-width', 1).attr('stroke-dasharray', '2,2');
		g.append('line').attr('x1', SX0).attr('x2', SX0 + 10).attr('y1', y(v)).attr('y2', y(v))
			.attr('stroke', '#000').attr('stroke-width', 1.2);
		g.append('line').attr('x1', SX1 - 10).attr('x2', SX1).attr('y1', y(v)).attr('y2', y(v))
			.attr('stroke', '#000').attr('stroke-width', 1.2);
	});
	// decades
	[0.1, 1, 10].forEach(function (v) {
		g.append('line').attr('x1', x(v)).attr('x2', x(v)).attr('y1', top).attr('y2', bottom)
			.attr('stroke', '#000').attr('stroke-width', 1.5);
	});
	[1, 10, 100, 1000].forEach(function (v) {
		g.append('line').attr('x1', SX0).attr('x2', SX1).attr('y1', y(v)).attr('y2', y(v))
			.attr('stroke', '#000').attr('stroke-width', 1.5);
	});
	g.append('rect').attr('x', SX0).attr('y', top).attr('width', SX1 - SX0).attr('height', bottom - top)
		.attr('fill', 'none').attr('stroke', '#000').attr('stroke-width', 1.6);

	var fmt = d3.format('.2f');
	specLabelsY.forEach(function (v) {
		txt(1389, y(v) + 5, fmt(v), 16, 'end');
	});
	specLabelsX.forEach(function (v) {
		txt(x(v) - 9, bottom + 23.5, fmt(v), 21, 'start');
	});
	txt(2131, bottom + 33.5, 'sec', 19, 'start');

	svg.append('clipPath').attr('id', id).append('rect')
		.attr('x', SX0).attr('y', top).attr('width', SX1 - SX0).attr('height', bottom - top);
	var line = d3.line().x(function (d) { return x(d[0]); }).y(function (d) { return y(d[1]); });
	series.forEach(function (s) {
		svg.append('path').datum(s.data).attr('d', line)
			.attr('clip-path', 'url(#' + id + ')')
			.attr('fill', 'none').attr('stroke', s.color).attr('stroke-width', s.w)
			.attr('stroke-linejoin', 'round');
	});
}

// Fourier spectrum
txt(1361, 94, 'cm/sec(gal·sec)', 16, 'start');
txt(1687, 102, 'フーリエスペクトル', 32, 'start');
txt(2017, 101, '0.4Hz band smoothing', 21, 'start');
logChart(127.9, 722.5, 'clipF', [
	{ data: fourierNS, color: COLORS.NS, w: 2.2 },
	{ data: fourierEW, color: COLORS.EW, w: 2.2 },
	{ data: fourierUD, color: COLORS.UD, w: 2.2 }
]);

// response spectrum
txt(1363, 880, 'cm/sec', 16, 'start');
txt(1652, 888, '相対速度応答スペクトル', 32, 'start');
txt(2183, 887, 'h=5%', 20, 'start');
logChart(913.6, 1508.2, 'clipR', [
	{ data: respNS, color: COLORS.NS, w: 2.2 },
	{ data: respEW, color: COLORS.EW, w: 2.2 },
	{ data: respUD, color: COLORS.UD, w: 2.2 },
	{ data: respH, color: COLORS.H, w: 4 }
]);

// legends
function legend(items, yy) {
	items.forEach(function (it) {
		txt(it.tx, yy + 5.5, it.name, 15, 'start');
		svg.append('line').attr('x1', it.l0).attr('x2', it.l1).attr('y1', yy).attr('y2', yy)
			.attr('stroke', it.color).attr('stroke-width', it.w);
	});
}
legend([
	{ name: 'NS', tx: 1665.5, l0: 1699, l1: 1757, color: COLORS.NS, w: 2.5 },
	{ name: 'EW', tx: 1792, l0: 1826, l1: 1883, color: COLORS.EW, w: 2.5 },
	{ name: 'UD', tx: 1918, l0: 1952, l1: 2009, color: COLORS.UD, w: 2.5 }
], 778);
legend([
	{ name: 'NS', tx: 1586, l0: 1617, l1: 1674, color: COLORS.NS, w: 2.5 },
	{ name: 'EW', tx: 1730, l0: 1762, l1: 1820, color: COLORS.EW, w: 2.5 },
	{ name: 'UD', tx: 1875.6, l0: 1909, l1: 1966, color: COLORS.UD, w: 2.5 },
	{ name: 'Horizon', tx: 1986, l0: 2054, l1: 2112, color: COLORS.H, w: 4 }
], 1563);
</script>
</body>
</html>
